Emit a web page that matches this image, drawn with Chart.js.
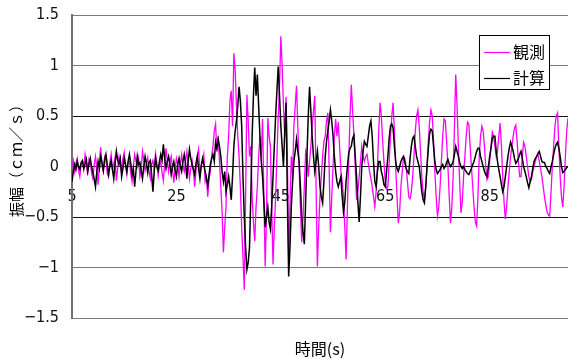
<!DOCTYPE html>
<html>
<head>
<meta charset="utf-8">
<script src="https://cdn.jsdelivr.net/npm/chart.js@4/dist/chart.umd.min.js"></script>
<style>
  html, body { margin: 0; padding: 0; background: #fff; }
  canvas { display: block; }
</style>
</head>
<body>
<canvas id="wave" width="568" height="359"></canvas>
<script>
// Series names and colours (legend order)
const seriesNames = ['観測', '計算'];
const seriesColors = ['#ff00ff', '#000000'];

// Sampling grid of the records (s)
const startTime = 5;
const sampleStep = 0.25;

// Observed amplitude (cm/s), one value every sampleStep from startTime (5 s per row)
const observed = [
   0.00,  0.06, -0.05,  0.03,  0.08, -0.04, -0.10,  0.02,  0.05, -0.03,  0.12,  0.04, -0.08,  0.07,  0.03, -0.06, -0.12,  0.02,  0.10, -0.02,
  -0.18,  0.05,  0.19,  0.00, -0.05,  0.10,  0.08, -0.07, -0.10,  0.04,  0.12, -0.03,  0.02,  0.09, -0.14, -0.02,  0.10,  0.03, -0.06,  0.08,
   0.14,  0.02, -0.08,  0.04,  0.05, -0.06, -0.15,  0.00,  0.12,  0.05,  0.00,  0.08, -0.10, -0.03,  0.15,  0.06, -0.04,  0.03,  0.09, -0.05,
  -0.12,  0.02,  0.06, -0.04,  0.13,  0.04, -0.09,  0.01,  0.05, -0.06, -0.14,  0.03,  0.18,  0.06, -0.05,  0.04,  0.10, -0.02, -0.16, -0.03,
   0.08,  0.02, -0.10,  0.03,  0.12,  0.00, -0.05,  0.06,  0.15,  0.02, -0.12, -0.02,  0.06, -0.05, -0.20, -0.04,  0.10,  0.17, -0.08,  0.02,
   0.05,  0.12, -0.15, -0.10, -0.30, -0.12, -0.05,  0.10,  0.20,  0.35,  0.42,  0.15,  0.30,  0.05, -0.20, -0.45, -0.85, -0.60, -0.40,  0.10,
   0.30,  0.65,  0.75,  0.40,  1.12,  0.95,  0.60,  0.30,  0.10, -0.20, -0.60, -0.90, -1.22, -0.30,  0.71,  0.45,  0.10,  0.20, -0.30, -0.55,
  -0.74, -0.40, -0.20,  0.10,  0.30,  0.10,  0.47, -0.30, -0.99, -0.50,  0.48,  0.30,  0.20, -0.40, -0.97, -0.60, -0.30,  0.10,  0.50,  0.80,
   1.29,  1.00,  0.60,  0.30,  0.69,  0.10, -0.90, -0.40,  0.10, -0.10,  0.40,  0.60,  0.80,  0.40,  0.00, -0.40, -0.75, -0.50, -0.20,  0.15,
   0.10, -0.10,  0.05,  0.20,  0.40,  0.55,  0.70, -0.20, -0.99, -0.60, -0.30, -0.10,  0.10,  0.25,  0.30,  0.45,  0.53,  0.00, -0.65, -0.30,
   0.00,  0.30,  0.47,  0.30,  0.44,  0.20, -0.05, -0.15, -0.30, -0.60, -0.92, -0.40,  0.06,  0.50,  0.81,  0.55,  0.30,  0.00, -0.33, -0.25,
  -0.10,  0.05,  0.20,  0.10,  0.05,  0.10,  0.12,  0.03, -0.05, -0.12, -0.20, -0.30, -0.40, -0.25,  0.00,  0.35,  0.63,  0.50,  0.25,  0.05,
  -0.15, -0.22, -0.20,  0.05,  0.30,  0.50,  0.63,  0.35,  0.00, -0.30, -0.56, -0.45, -0.20, -0.05,  0.10,  0.08,  0.00, -0.15, -0.30, -0.32,
  -0.25, -0.10,  0.10,  0.35,  0.50,  0.56,  0.40,  0.15, -0.10, -0.25, -0.33, -0.20,  0.00,  0.25,  0.45,  0.56,  0.50,  0.25, -0.05, -0.30,
  -0.49, -0.40, -0.20,  0.05,  0.30,  0.47,  0.45,  0.25,  0.00, -0.30, -0.56, -0.40, -0.10,  0.40,  0.91,  0.60,  0.20, -0.15, -0.46, -0.35,
  -0.10,  0.10,  0.30,  0.44,  0.42,  0.20,  0.00, -0.20, -0.40, -0.55, -0.59, -0.30,  0.10,  0.30,  0.40,  0.35,  0.20,  0.00, -0.13, -0.10,
   0.05,  0.20,  0.34,  0.30,  0.20,  0.10,  0.15,  0.30,  0.43,  0.20, -0.10, -0.35, -0.52, -0.40, -0.20, -0.05,  0.10,  0.20,  0.30,  0.38,
   0.41,  0.25,  0.05, -0.10, -0.10,  0.10,  0.24,  0.20,  0.10,  0.00, -0.10, -0.15, -0.13, -0.05,  0.00,  0.05,  0.10,  0.12,  0.05, -0.02,
  -0.10, -0.20, -0.30, -0.38, -0.45, -0.48, -0.49, -0.25,  0.00,  0.20,  0.40,  0.50,  0.53,  0.20, -0.10, -0.30, -0.40, -0.20,  0.10,  0.35,
   0.48
];

// Computed amplitude (cm/s), same sampling grid
const computed = [
  -0.15, -0.05,  0.02, -0.03,  0.05,  0.00, -0.03,  0.04,  0.06, -0.02,  0.02,  0.07, -0.05,  0.02,  0.08,  0.00, -0.06, -0.12, -0.20, -0.05,
   0.05, -0.02,  0.10,  0.04, -0.04,  0.06,  0.12,  0.02, -0.08,  0.00,  0.06, -0.03, -0.12,  0.03,  0.15,  0.06,  0.02,  0.08, -0.10, -0.02,
   0.08,  0.02, -0.05,  0.05,  0.12,  0.03, -0.08, -0.02, -0.20, -0.05,  0.10,  0.02,  0.04, -0.04, -0.12,  0.00,  0.10,  0.03, -0.06,  0.04,
   0.06, -0.08, -0.25, -0.05,  0.08,  0.00, -0.04,  0.05,  0.12,  0.06,  0.22,  0.08, -0.02,  0.05,  0.10,  0.02, -0.08,  0.00,  0.05, -0.04,
  -0.10,  0.02,  0.08,  0.00, -0.05,  0.05,  0.12,  0.03, -0.12,  0.05,  0.17,  0.08,  0.02, -0.03, -0.08,  0.03,  0.10, -0.02, -0.12,  0.00,
   0.08,  0.02, -0.05, -0.12, -0.19, -0.08,  0.02,  0.08,  0.12,  0.05,  0.24,  0.18,  0.27,  0.20,  0.10, -0.05, -0.15, -0.05, -0.25, -0.18,
  -0.10, -0.20, -0.33, -0.10,  0.20,  0.35,  0.45,  0.60,  0.79,  0.65,  0.40, -0.10, -0.50, -0.80, -1.02, -0.95, -0.80, -0.30,  0.30,  0.70,
   0.98,  0.70,  0.91,  0.60,  0.30,  0.05, -0.10, -0.35, -0.60, -0.50, -0.40, -0.55, -0.62, -0.40, -0.10,  0.20,  0.50,  0.75,  0.99,  0.70,
   0.40,  0.20,  0.00,  0.35,  0.63, -0.30, -1.09, -0.80, -0.40, -0.15,  0.05,  0.15,  0.27,  0.15,  0.05, -0.20, -0.50, -0.65, -0.77, -0.35,
   0.10,  0.50,  0.79,  0.55,  0.30,  0.10, -0.05,  0.05,  0.15,  0.00, -0.20, -0.30, -0.36, -0.15,  0.10,  0.25,  0.35,  0.45,  0.56,  0.45,
   0.30,  0.10, -0.05, -0.15, -0.20, -0.15, -0.10, -0.30, -0.45, -0.35, -0.15,  0.00,  0.13,  0.18,  0.20,  0.28,  0.31,  0.10, -0.10, -0.35,
  -0.55, -0.30,  0.00,  0.15,  0.25,  0.22,  0.20,  0.30,  0.40,  0.45,  0.30,  0.05, -0.15, -0.20, -0.05,  0.05,  0.05, -0.05, -0.10, -0.18,
  -0.20, -0.05,  0.10,  0.28,  0.40,  0.42,  0.38,  0.20,  0.05, -0.02, -0.05,  0.00,  0.05,  0.08,  0.10,  0.04, -0.02, -0.05, -0.07,  0.08,
   0.20,  0.28,  0.30,  0.20,  0.10,  0.05,  0.00, -0.12, -0.25, -0.33, -0.36, -0.20,  0.00,  0.18,  0.33,  0.37,  0.35,  0.20,  0.05, -0.03,
  -0.07, -0.05, -0.03,  0.00,  0.02, -0.02,  0.00,  0.04,  0.07,  0.03,  0.00,  0.02,  0.05,  0.12,  0.20,  0.15,  0.10,  0.04,  0.00, -0.02,
   0.00, -0.03, -0.05, -0.07, -0.08, -0.05, -0.02,  0.02,  0.05,  0.10,  0.15,  0.18,  0.18,  0.10,  0.05,  0.00, -0.05, -0.08, -0.10,  0.00,
   0.10,  0.18,  0.28,  0.30,  0.30,  0.15,  0.05, -0.03, -0.10, -0.18, -0.25, -0.20, -0.10,  0.00,  0.10,  0.18,  0.24,  0.20,  0.15,  0.08,
   0.03,  0.05,  0.08,  0.12,  0.15,  0.08,  0.00, -0.05, -0.10, -0.16, -0.21, -0.15, -0.10, -0.02,  0.05,  0.08,  0.10,  0.13,  0.15,  0.10,
   0.05,  0.04,  0.04,  0.00, -0.02, -0.05, -0.07,  0.00,  0.05,  0.12,  0.18,  0.22,  0.24,  0.18,  0.10,  0.00, -0.06, -0.05, -0.03, -0.01,
   0.00
];

// Axis ticks and titles
const xTickValues = [5, 25, 45, 65, 85];
const xRange = [5, 100];
const yRange = [-1.5, 1.5];
const yStep = 0.5;
const xTitle = '時間(s)';
const yTitle = '振幅（ｃｍ／ｓ）';

const tickFont = { family: '"Liberation Sans Narrow", "Arial Narrow", "DejaVu Sans Condensed", sans-serif', size: 16 };
const cjkFont = '"Noto Sans CJK JP", "Noto Sans CJK SC", sans-serif';

const toPoints = (values) => values.map((v, i) => ({ x: startTime + i * sampleStep, y: v }));

// Titles and the boxed legend in the upper right of the plot
const decorations = {
  id: 'decorations',
  afterDraw(chart) {
    const ctx = chart.ctx;
    const area = chart.chartArea;
    ctx.save();
    ctx.fillStyle = '#000';
    ctx.textAlign = 'center';
    ctx.textBaseline = 'middle';

    // x title
    ctx.font = '16px ' + cjkFont;
    ctx.fillText(xTitle, (area.left + area.right) / 2, 349);

    // y title (rotated)
    ctx.save();
    ctx.translate(16, 157);
    ctx.rotate(-Math.PI / 2);
    ctx.font = '15px ' + cjkFont;
    ctx.fillText(yTitle, 0, 0);
    ctx.restore();

    // legend
    const bx = area.right - 89, by = area.top + 20, bw = 70, bh = 54;
    ctx.fillStyle = '#fff';
    ctx.fillRect(bx, by, bw, bh);
    ctx.strokeStyle = '#000';
    ctx.lineWidth = 1;
    ctx.strokeRect(bx + 0.5, by + 0.5, bw, bh);
    ctx.font = '16px ' + cjkFont;
    ctx.textAlign = 'left';
    seriesNames.forEach((name, i) => {
      const ly = by + 17 + i * 26;
      ctx.strokeStyle = seriesColors[i];
      ctx.lineWidth = 1.2;
      ctx.beginPath();
      ctx.moveTo(bx + 5, ly + 0.5);
      ctx.lineTo(bx + 31, ly + 0.5);
      ctx.stroke();
      ctx.fillStyle = '#000';
      ctx.fillText(name, bx + 34, ly);
    });
    ctx.restore();
  }
};

new Chart(document.getElementById('wave'), {
  type: 'line',
  data: {
    datasets: [
      {
        label: seriesNames[0],
        data: toPoints(observed),
        borderColor: seriesColors[0],
        borderWidth: 1.3,
        pointRadius: 0,
        tension: 0,
        fill: false,
        order: 1
      },
      {
        label: seriesNames[1],
        data: toPoints(computed),
        borderColor: seriesColors[1],
        borderWidth: 1.5,
        pointRadius: 0,
        tension: 0,
        fill: false,
        order: 0
      }
    ]
  },
  options: {
    responsive: false,
    animation: false,
    events: [],
    layout: { padding: { left: 0, right: 0, top: 15, bottom: 41 } },
    plugins: {
      legend: { display: false },
      tooltip: { enabled: false }
    },
    scales: {
      x: {
        type: 'linear',
        position: { y: 0 },
        min: xRange[0],
        max: xRange[1],
        afterBuildTicks: (scale) => { scale.ticks = xTickValues.map(v => ({ value: v })); },
        grid: { display: false, drawTicks: false },
        border: { display: false },
        ticks: {
          font: tickFont,
          color: '#111',
          padding: 21,
          maxRotation: 0,
          autoSkip: false
        }
      },
      y: {
        min: yRange[0],
        max: yRange[1],
        afterFit: (scale) => {
          scale.width = 72;
          scale.paddingTop = 0;
          scale.paddingBottom = 0;
        },
        ticks: {
          stepSize: yStep,
          font: tickFont,
          color: '#111',
          padding: 13,
          callback: (v) => String(v).replace('-', '−')
        },
        grid: {
          drawTicks: false,
          color: (c) => Math.abs(c.tick.value) >= 1 ? '#7a7a7a' : '#111',
          lineWidth: 1
        },
        border: { display: true, color: '#707070', width: 2 }
      }
    }
  },
  plugins: [decorations]
});
</script>
</body>
</html>
